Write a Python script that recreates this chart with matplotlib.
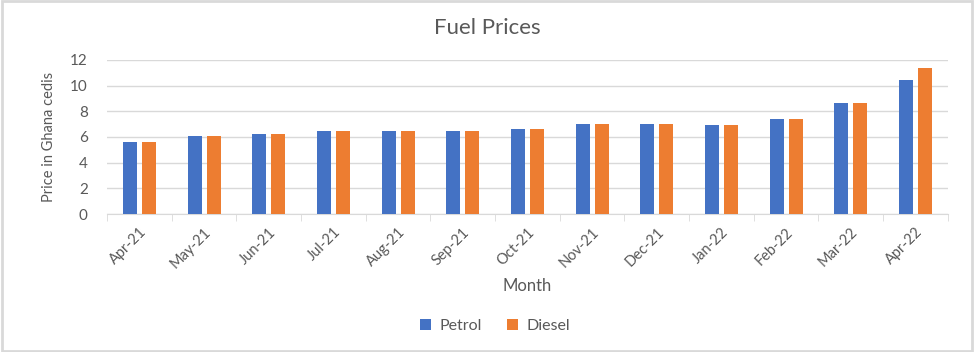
import numpy as np
import matplotlib
matplotlib.use("Agg")
import matplotlib.pyplot as plt
from matplotlib.patches import Rectangle

plt.rcParams['font.family'] = ['Lato', 'DejaVu Sans']

months = ['Apr-21', 'May-21', 'Jun-21', 'Jul-21', 'Aug-21', 'Sep-21', 'Oct-21',
          'Nov-21', 'Dec-21', 'Jan-22', 'Feb-22', 'Mar-22', 'Apr-22']
petrol = [5.6, 6.06, 6.26, 6.47, 6.47, 6.47, 6.65, 7.01, 7.01, 6.91, 7.38, 8.62, 10.42]
diesel = [5.6, 6.06, 6.26, 6.47, 6.47, 6.47, 6.65, 7.01, 7.01, 6.91, 7.38, 8.62, 11.35]

txt = '#595959'
grid = '#d9d9d9'

fig = plt.figure(figsize=(9.74, 3.52), dpi=100)
ax = fig.add_axes([0.110, 0.392, 0.863, 0.438])

x = np.arange(len(months))
w = 0.216
off = 0.147
ax.bar(x - off, petrol, w, color='#4472C4', label='Petrol', zorder=3)
ax.bar(x + off, diesel, w, color='#ED7D31', label='Diesel', zorder=3)

ax.set_xlim(-0.5, len(months) - 0.5)
ax.set_ylim(0, 12)
ax.set_yticks(range(0, 13, 2))
ax.yaxis.grid(True, color=grid, lw=1, zorder=0)
ax.set_xticks(x)
ax.set_xticklabels(months, rotation=45, ha='right', rotation_mode='anchor')
ax.set_xticks(np.arange(-0.5, len(months), 1), minor=True)
ax.tick_params(axis='x', which='major', length=0, pad=8, colors=txt, labelsize=10.5)
ax.tick_params(axis='x', which='minor', length=5, color=grid)
ax.tick_params(axis='y', length=0, colors=txt, labelsize=11, pad=14)

for s in ['top', 'right', 'left']:
    ax.spines[s].set_visible(False)
ax.spines['bottom'].set_color(grid)

ax.set_ylabel('Price in Ghana cedis', color=txt, fontsize=10.5, labelpad=10)
ax.set_xlabel('Month', color=txt, fontsize=12, labelpad=5)
fig.text(0.5, 0.92, 'Fuel Prices', ha='center', va='center', color=txt, fontsize=16)

leg = fig.legend(loc='center', bbox_to_anchor=(0.508, 0.075), ncol=2, frameon=False,
                 fontsize=11.5, handlelength=0.7, handleheight=0.7, columnspacing=1.6,
                 handletextpad=0.5)
for t in leg.get_texts():
    t.set_color(txt)

fig.patches.append(Rectangle((0.002, 0.003), 0.996, 0.994, transform=fig.transFigure,
                             fill=False, edgecolor=grid, lw=2))

fig.savefig('out.png', dpi=100)
